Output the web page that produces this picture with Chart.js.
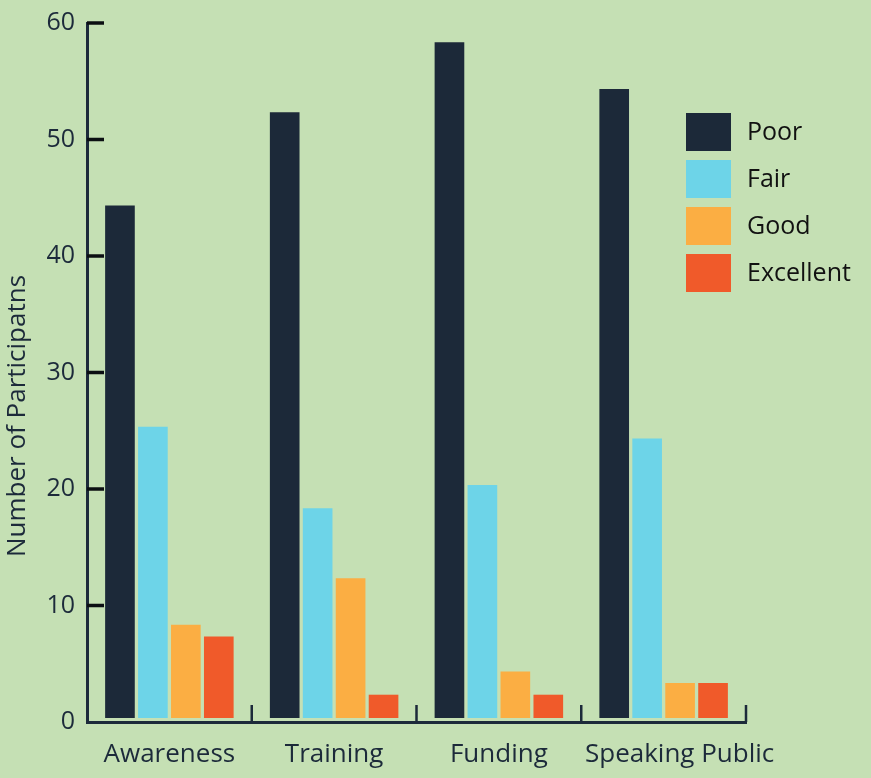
<!DOCTYPE html>
<html>
<head>
<meta charset="utf-8">
<title>Participant ratings</title>
<script src="https://cdn.jsdelivr.net/npm/chart.js@4/dist/chart.umd.min.js"></script>
<style>
  html, body { margin: 0; padding: 0; background: #c5e0b4; }
  #wrap { width: 871px; height: 778px; }
</style>
</head>
<body>
<div id="wrap"><canvas id="chart" width="871" height="778"></canvas></div>
<script>
// Ratings per topic
const categories = ['Awareness', 'Training', 'Funding', 'Speaking Public'];
const poor = [44, 52, 58, 54];
const fair = [25, 18, 20, 24];
const good = [8, 12, 4, 3];
const excellent = [7, 2, 2, 3];
const seriesNames = ['Poor', 'Fair', 'Good', 'Excellent'];
const yTickValues = [0, 10, 20, 30, 40, 50, 60];
const yTitle = 'Number of Participatns';

const COLORS = ['#1c2939', '#6dd4e8', '#fbae43', '#f05a2a'];
const BG = '#c5e0b4';
const AXIS = '#1c2a3a';
const FONT = "'Open Sans', 'Noto Sans', sans-serif";

// Background, inward tick marks, category separators, axis title and legend
const decor = {
  id: 'decor',
  beforeDraw(chart) {
    const ctx = chart.ctx;
    ctx.save();
    ctx.fillStyle = BG;
    ctx.fillRect(0, 0, chart.width, chart.height);
    ctx.restore();

    // the last category label sits a little to the right of its slot
    const xs = chart.scales.x;
    if (xs && typeof xs.getLabelItems === 'function') {
      const items = xs.getLabelItems(chart.chartArea);
      const last = items && items[items.length - 1];
      if (last && last.options && last.options.translation) {
        last.options.translation[0] += 16;
      }
    }
  },
  beforeDatasetsDraw(chart) {
    // bars sit slightly above the baseline
    chart.ctx.save();
    chart.ctx.translate(0, -4);
  },
  afterDatasetsDraw(chart) {
    chart.ctx.restore();
  },
  afterDraw(chart) {
    const ctx = chart.ctx;
    const area = chart.chartArea;
    const xs = chart.scales.x;
    const ys = chart.scales.y;
    ctx.save();

    // y tick marks pointing into the plot
    ctx.strokeStyle = '#0b0f12';
    ctx.lineWidth = 3.5;
    ys.ticks.forEach(t => {
      if (t.value === 0) return;
      const y = ys.getPixelForValue(t.value);
      ctx.beginPath();
      ctx.moveTo(area.left, y);
      ctx.lineTo(area.left + 17, y);
      ctx.stroke();
    });

    // separators between categories on the x axis
    ctx.strokeStyle = AXIS;
    ctx.lineWidth = 2.5;
    const n = xs.ticks.length;
    for (let i = 0; i < n; i++) {
      const x = i < n - 1
        ? (xs.getPixelForValue(i) + xs.getPixelForValue(i + 1)) / 2
        : area.right;
      ctx.beginPath();
      ctx.moveTo(x, area.bottom);
      ctx.lineTo(x, area.bottom - 17);
      ctx.stroke();
    }

    // y axis title
    ctx.fillStyle = AXIS;
    ctx.font = '26px ' + FONT;
    ctx.textAlign = 'center';
    ctx.textBaseline = 'middle';
    ctx.translate(18, 416);
    ctx.rotate(-Math.PI / 2);
    ctx.fillText(yTitle, 0, 0);
    ctx.setTransform(1, 0, 0, 1, 0, 0);

    // legend
    const lx = 686, ly = 113, bw = 45, bh = 38, step = 47;
    ctx.font = '25px ' + FONT;
    ctx.textAlign = 'left';
    ctx.textBaseline = 'middle';
    chart.data.datasets.forEach((ds, i) => {
      const top = ly + i * step;
      ctx.fillStyle = ds.backgroundColor;
      ctx.fillRect(lx, top, bw, bh);
      ctx.fillStyle = '#111111';
      ctx.fillText(ds.label, lx + 61, top + bh / 2 + 1);
    });
    ctx.restore();
  }
};

const seriesData = [poor, fair, good, excellent];

new Chart(document.getElementById('chart'), {
  type: 'bar',
  data: {
    labels: categories,
    datasets: seriesNames.map((name, i) => ({
      label: name,
      data: seriesData[i],
      backgroundColor: COLORS[i],
      borderWidth: 0,
      categoryPercentage: 0.8,
      barPercentage: 0.9
    }))
  },
  options: {
    responsive: false,
    devicePixelRatio: 1,
    animation: false,
    layout: { padding: { left: 0, top: 23, right: 125, bottom: 0 } },
    plugins: {
      legend: { display: false },
      tooltip: { enabled: false },
      title: { display: false }
    },
    scales: {
      x: {
        grid: { display: false, drawTicks: false },
        border: { display: true, color: AXIS, width: 3 },
        ticks: {
          color: AXIS,
          padding: 17,
          maxRotation: 0,
          minRotation: 0,
          autoSkip: false,
          font: { family: FONT, size: 26 }
        },
        afterFit(scale) { scale.height = 56; }
      },
      y: {
        min: 0,
        max: 60,
        grid: { display: false, drawTicks: false },
        border: { display: true, color: AXIS, width: 3 },
        afterBuildTicks(scale) {
          scale.ticks = yTickValues.map(v => ({ value: v }));
        },
        ticks: {
          color: AXIS,
          padding: 12,
          font: { family: FONT, size: 25 }
        },
        afterFit(scale) {
          scale.width = 87;
          scale.paddingTop = 0;
          scale.paddingBottom = 0;
        }
      }
    }
  },
  plugins: [decor]
});
</script>
</body>
</html>
